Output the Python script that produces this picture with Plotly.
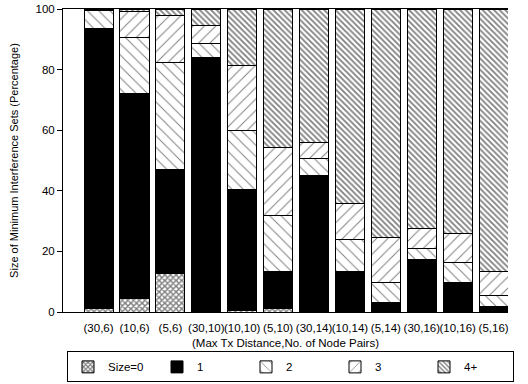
import plotly.graph_objects as go

categories = ["(30,6)", "(10,6)", "(5,6)", "(30,10)", "(10,10)", "(5,10)",
              "(30,14)", "(10,14)", "(5,14)", "(30,16)", "(10,16)", "(5,16)"]
size0 = [1.3, 4.3, 12.8, 0.3, 0.5, 1.0, 0.0, 0.0, 0.0, 0.0, 0.0, 0.0]
size1 = [92.4, 67.9, 34.3, 83.7, 40.0, 12.3, 45.2, 13.3, 3.1, 17.2, 9.8, 1.8]
size2 = [5.8, 18.3, 35.2, 4.7, 19.3, 18.7, 5.5, 10.7, 6.7, 3.6, 6.6, 3.8]
size3 = [0.3, 8.6, 15.4, 5.7, 21.7, 22.2, 5.3, 11.9, 14.9, 6.7, 9.6, 7.7]
size4 = [0.2, 0.9, 2.3, 5.6, 18.5, 45.8, 44.0, 64.1, 75.3, 72.5, 74.0, 86.7]
series_names = ["Size=0", "1", "2", "3", "4+"]
y_ticks = [0, 20, 40, 60, 80, 100]

xpos = list(range(len(categories)))
FONT = "Liberation Sans, Arial, Helvetica, sans-serif"

styles = [
    dict(color="white", pattern=dict(shape="x", size=4, solidity=0.6, fgcolor="black", bgcolor="white")),
    dict(color="black"),
    dict(color="white", pattern=dict(shape="\\", size=8, solidity=0.12, fgcolor="black", bgcolor="white")),
    dict(color="white", pattern=dict(shape="/", size=8, solidity=0.12, fgcolor="black", bgcolor="white")),
    dict(color="white", pattern=dict(shape="\\", size=4, solidity=0.45, fgcolor="black", bgcolor="white")),
]

fig = go.Figure()
for name, vals, st in zip(series_names, [size0, size1, size2, size3, size4], styles):
    marker = dict(line=dict(color="black", width=1), **st)
    fig.add_trace(go.Bar(x=xpos, y=vals, name=name, width=0.81, marker=marker))

fig.update_layout(
    width=528, height=384,
    barmode="stack",
    plot_bgcolor="white", paper_bgcolor="white",
    margin=dict(l=63, r=0, t=9, b=72),
    font=dict(family=FONT, size=11.5, color="black"),
    xaxis=dict(
        domain=[0, 445 / 465], automargin=False,
        range=[-0.99, 11.4],
        tickvals=xpos, ticktext=categories, tickangle=0,
        ticks="outside", ticklen=5, tickcolor="rgba(0,0,0,0)",
        showline=True, linecolor="black", linewidth=1, mirror=True,
        showgrid=False, zeroline=False,
        title=dict(text="(Max Tx Distance,No. of Node Pairs)", font=dict(size=11.5), standoff=6),
    ),
    yaxis=dict(
        range=[0, 100], tickvals=y_ticks, automargin=False,
        ticks="outside", ticklen=5, tickcolor="black",
        showline=True, linecolor="black", linewidth=1,
        showgrid=False, zeroline=False,
        title=dict(text="Size of Minimum Interference Sets (Percentage)", font=dict(size=11), standoff=14),
    ),
    yaxis2=dict(
        overlaying="y", side="right", anchor="free", position=1, automargin=False,
        range=[0, 100], tickvals=[20, 40, 60, 80],
        ticks="inside", ticklen=4, tickcolor="black",
        showticklabels=False, showline=False, showgrid=False, zeroline=False,
    ),
    legend=dict(
        orientation="h", x=4 / 465, xanchor="left", y=-0.13, yanchor="top",
        bordercolor="black", borderwidth=1, bgcolor="white",
        entrywidth=44, font=dict(size=11.5), traceorder="normal",
    ),
)

fig.write_html("out.html", config={"displayModeBar": False},
               post_script="document.body.style.margin='0';")
